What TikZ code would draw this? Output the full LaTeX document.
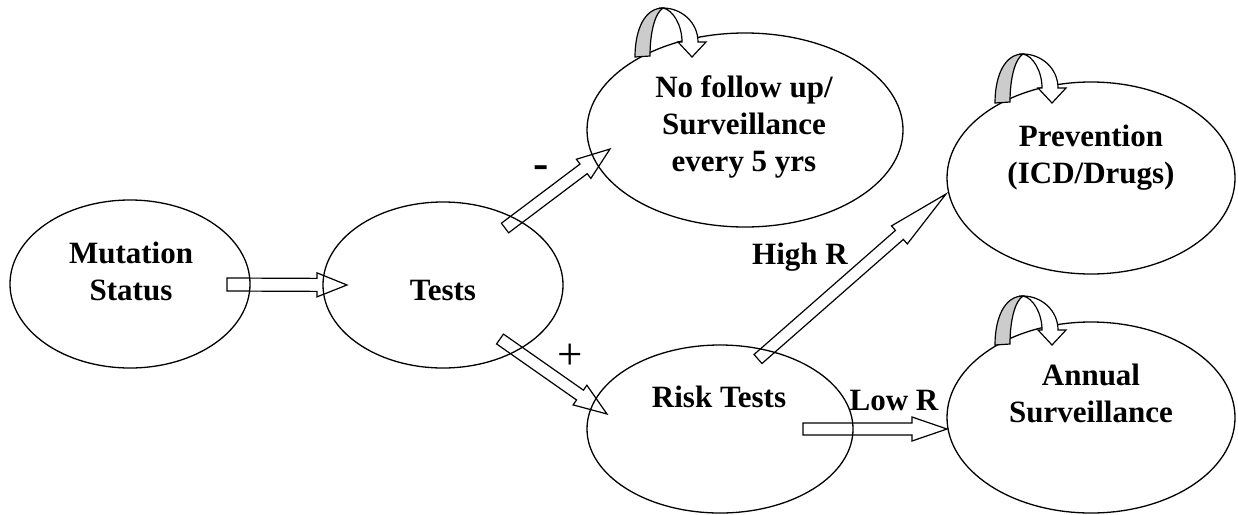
\documentclass[tikz,border=0pt]{standalone}
\usepackage{fontspec}
\setmainfont{Liberation Serif}
\usetikzlibrary{shapes.geometric,calc}
\tikzset{
  ell/.style={ellipse, draw=black, line width=1.3pt, inner sep=0pt, outer sep=0pt},
  lbl/.style={font=\fontsize{31}{37}\selectfont\bfseries, align=center, inner sep=0pt},
  blockarrow/.style={draw=black, fill=white, line width=1.2pt, line join=miter},
  loopgray/.style={draw=black, fill=black!20, line width=1.2pt},
  loopwhite/.style={draw=black, fill=white, line width=1.2pt, line join=miter},
  selfloop/.pic={
    \path[loopgray] (0,0) .. controls (0,-28) and (10,-49) .. (28,-49)
      .. controls (20,-44) and (15,-25) .. (15,-1) -- cycle;
    \path[loopwhite] (28,-49) .. controls (46,-49) and (63,-35) .. (63,-15)
      -- (71,-15) -- (57,0) -- (43,-15) -- (47,-15)
      .. controls (47,-32) and (38,-47) .. (28,-49) -- cycle;
  }
}
\newcommand{\myblockarr}[4]{% #1 head length, #2 shaft half width, #3 from, #4 to
  \path[blockarrow] let \p1=($(#4)-(#3)$), \n1={veclen(\x1,\y1)}, \n2={atan2(\y1,\x1)} in
    [shift={(#3)}, rotate=\n2]
    (0,-#2) -- ({\n1-#1},-#2) -- ({\n1-#1},-12) -- (\n1,0) -- ({\n1-#1},12) -- ({\n1-#1},#2) -- (0,#2) -- cycle;}
\begin{document}
\begin{tikzpicture}[x=1pt,y=-1pt]
\useasboundingbox (0,0) rectangle (1238,514);
% arrow end points
\coordinate (a1s) at (227,284.5);
\coordinate (a1e) at (347,285);
\coordinate (a2s) at (505,228);
\coordinate (a2e) at (610,149);
\coordinate (a3s) at (500,339);
\coordinate (a3e) at (607,414);
\coordinate (a4s) at (758,359);
\coordinate (a4e) at (946,194);
\coordinate (a5s) at (803,429);
\coordinate (a5e) at (947,429);
% block arrows
\myblockarr{30}{6.5}{a1s}{a1e}
\myblockarr{33}{6}{a2s}{a2e}
\myblockarr{33}{6}{a3s}{a3e}
\myblockarr{62}{6}{a4s}{a4e}
\myblockarr{35}{6}{a5s}{a5e}
% ellipses
\node[ell, minimum width=240pt, minimum height=168pt] (ms) at (130,284) {};
\node[ell, minimum width=240pt, minimum height=166pt] (tests) at (443,285) {};
\node[ell, minimum width=316pt, minimum height=194pt] (nofu) at (745,130) {};
\node[ell, minimum width=266pt, minimum height=168pt] (risk) at (720,429) {};
\node[ell, minimum width=288pt, minimum height=192pt] (prev) at (1091,178) {};
\node[ell, minimum width=288pt, minimum height=191pt] (ann) at (1091,417.5) {};
% self loops
\pic (loopA) at (635,57) {selfloop};
\pic (loopB) at (995,103) {selfloop};
\pic (loopC) at (995,345) {selfloop};
% texts
\node[lbl] (mst) at (131,271) {Mutation\\Status};
\node[lbl, anchor=base] (testst) at (443,300) {Tests};
\node[lbl] (nofut) at (744,127) {No follow up/\\Surveillance\\every 5 yrs};
\node[lbl, anchor=base] (riskt) at (719,407) {Risk Tests};
\node[lbl] (prevt) at (1091,158) {Prevention\\(ICD/Drugs)};
\node[lbl] (annt) at (1091,393) {Annual\\Surveillance};
\node[lbl, anchor=base] (highr) at (800,264) {High R};
\node[lbl, anchor=base] (lowr) at (894,410) {Low R};
\node[inner sep=0pt, font=\fontsize{46}{46}\selectfont\bfseries] (minus) at (541.5,172) {-};
\node[inner sep=0pt, font=\fontsize{45}{45}\selectfont] (plus) at (570,357) {+};
\end{tikzpicture}
\end{document}
